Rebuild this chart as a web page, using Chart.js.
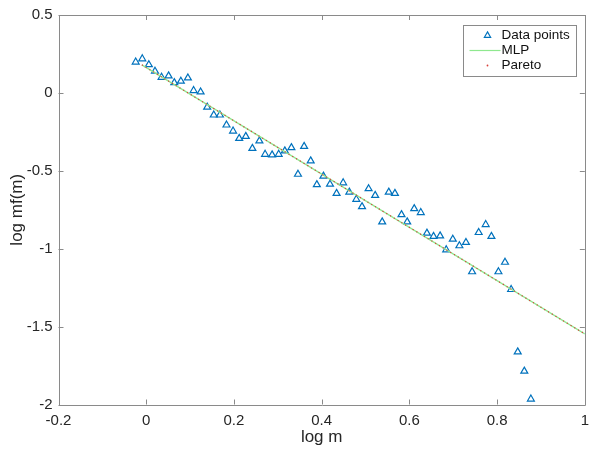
<!DOCTYPE html>
<html>
<head>
<meta charset="utf-8">
<script src="https://cdn.jsdelivr.net/npm/chart.js@4.4.1/dist/chart.umd.min.js"></script>
<style>
  html, body { margin: 0; padding: 0; background: #ffffff; }
  #wrap { width: 596px; height: 452px; }
</style>
</head>
<body>
<div id="wrap"><canvas id="c" width="596" height="452"></canvas></div>
<script>
// ---- data ----
const logM = [
  -0.024, -0.009, 0.006, 0.020, 0.035, 0.051, 0.064, 0.079, 0.095, 0.108,
  0.124, 0.139, 0.154, 0.168, 0.183, 0.198, 0.212, 0.227, 0.242, 0.258,
  0.271, 0.287, 0.302, 0.316, 0.331, 0.346, 0.360, 0.375, 0.389, 0.404,
  0.419, 0.434, 0.449, 0.463, 0.479, 0.492, 0.507, 0.522, 0.538, 0.553,
  0.567, 0.582, 0.595, 0.611, 0.626, 0.640, 0.655, 0.670, 0.684, 0.699,
  0.714, 0.729, 0.743, 0.758, 0.774, 0.787, 0.803, 0.818, 0.832, 0.847,
  0.862, 0.877
];
const logMf = [
  0.198, 0.219, 0.181, 0.139, 0.100, 0.109, 0.066, 0.075, 0.096, 0.015,
  0.006, -0.091, -0.142, -0.142, -0.206, -0.245, -0.292, -0.279, -0.356, -0.308,
  -0.394, -0.398, -0.394, -0.372, -0.351, -0.522, -0.343, -0.436, -0.589, -0.534,
  -0.586, -0.645, -0.577, -0.637, -0.683, -0.730, -0.615, -0.658, -0.828, -0.637,
  -0.645, -0.781, -0.828, -0.743, -0.768, -0.900, -0.921, -0.918, -1.007, -0.939,
  -0.981, -0.960, -1.148, -0.896, -0.845, -0.921, -1.148, -1.087, -1.262, -1.662,
  -1.786, -1.965
];
const fitX = [-0.01, 1.0];
const mlpY = [0.180, -1.547];
const paretoY = [0.180, -1.547];

const xTickValues = [-0.2, 0, 0.2, 0.4, 0.6, 0.8, 1];
const xTickLabels = ['-0.2', '0', '0.2', '0.4', '0.6', '0.8', '1'];
const yTickValues = [0.5, 0, -0.5, -1, -1.5, -2];
const yTickLabels = ['0.5', '0', '-0.5', '-1', '-1.5', '-2'];

const seriesNames = ['Data points', 'MLP', 'Pareto'];
const xTitle = 'log m';
const yTitle = 'log mf(m)';

// ---- styles ----
const FONT = '"Liberation Sans", Arial, Helvetica, sans-serif';
const BLUE = '#0072BD';
const GREEN = '#8fe88f';
const RED = '#d9403a';
const AXIS = '#8a8a8a';
const TEXT = '#262626';

const pts = logM.map((v, i) => ({ x: v, y: logMf[i] }));
const mlpPts = fitX.map((v, i) => ({ x: v, y: mlpY[i] }));
const parPts = fitX.map((v, i) => ({ x: v, y: paretoY[i] }));

function labelFrom(values, labels) {
  return function (val) {
    const i = values.findIndex(v => Math.abs(v - val) < 1e-9);
    return i >= 0 ? labels[i] : '';
  };
}

const framePlugin = {
  id: 'frame',
  afterDraw(chart) {
    const { ctx, chartArea: a, scales } = chart;
    const xs = scales.x, ys = scales.y;
    ctx.save();
    ctx.strokeStyle = AXIS;
    ctx.lineWidth = 1;
    ctx.beginPath();
    ctx.rect(Math.round(a.left) + 0.5, Math.round(a.top) + 0.5,
             Math.round(a.right - a.left), Math.round(a.bottom - a.top));
    ctx.stroke();
    const tl = 5;
    ctx.beginPath();
    xTickValues.forEach(v => {
      const px = Math.round(xs.getPixelForValue(v)) + 0.5;
      ctx.moveTo(px, a.bottom); ctx.lineTo(px, a.bottom - tl);
      ctx.moveTo(px, a.top); ctx.lineTo(px, a.top + tl);
    });
    yTickValues.forEach(v => {
      const py = Math.round(ys.getPixelForValue(v)) + 0.5;
      ctx.moveTo(a.left, py); ctx.lineTo(a.left + tl, py);
      ctx.moveTo(a.right, py); ctx.lineTo(a.right - tl, py);
    });
    ctx.stroke();

    // legend box
    const bw = 113, bh = 51;
    const bx = Math.round(a.right - 9 - bw) + 0.5;
    const by = Math.round(a.top + 10) + 0.5;
    ctx.fillStyle = '#ffffff';
    ctx.fillRect(bx, by, bw, bh);
    ctx.strokeStyle = AXIS;
    ctx.strokeRect(bx, by, bw, bh);

    const rowY = [by + 10, by + 25, by + 40];
    const symX = bx + 24;
    // triangle
    ctx.strokeStyle = BLUE;
    ctx.lineWidth = 1.2;
    const r = 3.6;
    ctx.beginPath();
    ctx.moveTo(symX, rowY[0] - r);
    ctx.lineTo(symX + r * 0.866, rowY[0] + r * 0.5);
    ctx.lineTo(symX - r * 0.866, rowY[0] + r * 0.5);
    ctx.closePath();
    ctx.stroke();
    // MLP line
    ctx.strokeStyle = GREEN;
    ctx.lineWidth = 1.2;
    ctx.beginPath();
    ctx.moveTo(bx + 6, rowY[1]);
    ctx.lineTo(bx + 37, rowY[1]);
    ctx.stroke();
    // Pareto dot
    ctx.fillStyle = RED;
    ctx.beginPath();
    ctx.arc(symX, rowY[2], 0.9, 0, Math.PI * 2);
    ctx.fill();

    ctx.fillStyle = '#111111';
    ctx.font = '13.5px ' + FONT;
    ctx.textBaseline = 'middle';
    ctx.textAlign = 'left';
    seriesNames.forEach((n, i) => ctx.fillText(n, bx + 38, rowY[i]));
    ctx.restore();
  }
};

new Chart(document.getElementById('c'), {
  type: 'scatter',
  data: {
    datasets: [
      {
        label: seriesNames[0],
        data: pts,
        showLine: false,
        pointStyle: 'triangle',
        pointRadius: 4,
        pointBorderWidth: 1.2,
        pointBorderColor: BLUE,
        pointBackgroundColor: 'rgba(0,0,0,0)',
        order: 2
      },
      {
        label: seriesNames[1],
        data: mlpPts,
        showLine: true,
        borderColor: GREEN,
        borderWidth: 1.3,
        pointRadius: 0,
        order: 1
      },
      {
        label: seriesNames[2],
        data: parPts,
        showLine: true,
        borderColor: RED,
        borderWidth: 1.2,
        borderDash: [1.2, 3.2],
        pointRadius: 0,
        order: 0
      }
    ]
  },
  options: {
    responsive: false,
    animation: false,
    devicePixelRatio: 1,
    layout: { padding: { top: 12.7, right: 11, bottom: 0, left: 0 } },
    plugins: {
      legend: { display: false },
      tooltip: { enabled: false }
    },
    scales: {
      x: {
        type: 'linear',
        min: -0.2, max: 1,
        afterBuildTicks: s => { s.ticks = xTickValues.map(v => ({ value: v })); },
        afterFit: s => { s.height = 47.5; },
        grid: { display: false, drawTicks: false },
        border: { display: false },
        ticks: {
          callback: labelFrom(xTickValues, xTickLabels),
          color: TEXT,
          font: { family: FONT, size: 15 },
          padding: 7,
          maxRotation: 0,
          autoSkip: false
        },
        title: {
          display: true, text: xTitle, color: TEXT,
          font: { family: FONT, size: 17 },
          padding: { top: 0, bottom: 4 }
        }
      },
      y: {
        type: 'linear',
        min: -2, max: 0.5,
        afterBuildTicks: s => { s.ticks = yTickValues.map(v => ({ value: v })); },
        afterFit: s => { s.width = 58.5; },
        grid: { display: false, drawTicks: false },
        border: { display: false },
        ticks: {
          callback: labelFrom(yTickValues, yTickLabels),
          color: TEXT,
          font: { family: FONT, size: 15 },
          padding: 6,
          autoSkip: false
        },
        title: {
          display: true, text: yTitle, color: TEXT,
          font: { family: FONT, size: 17 },
          padding: { top: 7, bottom: 0 }
        }
      }
    }
  },
  plugins: [framePlugin]
});
</script>
</body>
</html>
